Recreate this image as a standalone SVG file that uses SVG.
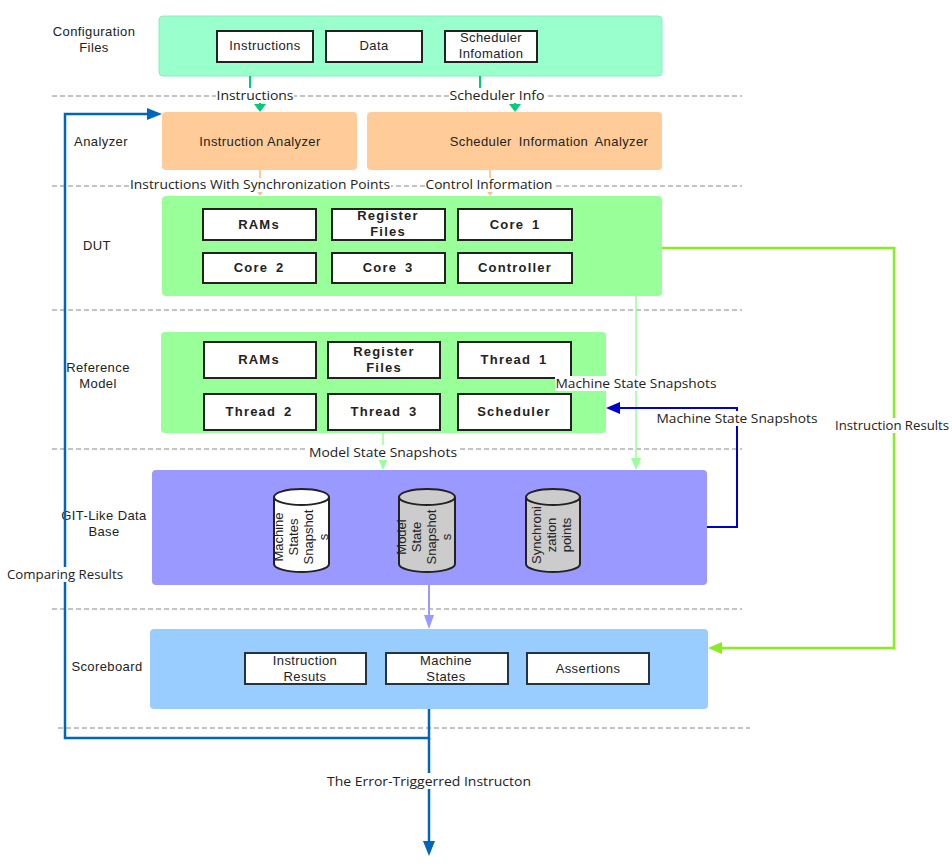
<svg xmlns="http://www.w3.org/2000/svg" width="952" height="866" viewBox="0 0 952 866">
<style>
.lane{font-family:"Liberation Sans",Arial,sans-serif;font-size:13px;fill:#222;text-anchor:middle;letter-spacing:0.4px}
.box{fill:#fff;stroke:#222;stroke-width:2}
.bt{font-family:"Liberation Sans",Arial,sans-serif;font-size:13px;fill:#222;text-anchor:middle;letter-spacing:0.4px}
.bb{font-family:"Liberation Sans",Arial,sans-serif;font-size:13px;font-weight:bold;fill:#222;text-anchor:middle;letter-spacing:1.2px;word-spacing:3px}
.cl{font-family:"Open Sans","Noto Sans",sans-serif;font-size:13.5px;fill:#222;text-anchor:middle}
.dash{stroke:#888;stroke-width:1;stroke-dasharray:5 3;fill:none}
.cyl{font-family:"Liberation Sans",Arial,sans-serif;font-size:13px;fill:#222;text-anchor:middle}
.sb{fill:#fff;stroke:#223344;stroke-width:2}
</style>
<rect width="952" height="866" fill="#fff"/>
<g id="lanes">
<line class="dash" x1="52" y1="96" x2="742" y2="96"/>
<line class="dash" x1="52" y1="186" x2="742" y2="186"/>
<line class="dash" x1="52" y1="310" x2="742" y2="310"/>
<line class="dash" x1="52" y1="449" x2="742" y2="449"/>
<line class="dash" x1="52" y1="609" x2="742" y2="609"/>
<line class="dash" x1="58" y1="728" x2="750" y2="728"/>
<text class="lane" x="94" y="36">Configuration</text>
<text class="lane" x="94" y="52">Files</text>
<text class="lane" x="101" y="146">Analyzer</text>
<text class="lane" x="97" y="250">DUT</text>
<text class="lane" x="98" y="372">Reference</text>
<text class="lane" x="98" y="388">Model</text>
<text class="lane" x="104" y="520">GIT-Like Data</text>
<text class="lane" x="104" y="536">Base</text>
<text class="lane" x="107" y="671">Scoreboard</text>
</g>
<g id="config">
<rect x="159" y="16" width="503" height="60" rx="4" fill="#99ffcc" stroke="#88eebb" stroke-width="1"/>
<rect class="box" x="217" y="31" width="96" height="31"/>
<text class="bt" x="265" y="50">Instructions</text>
<rect class="box" x="326" y="31" width="96" height="31"/>
<text class="bt" x="374" y="50">Data</text>
<rect class="box" x="445" y="31" width="92" height="31"/>
<text class="bt" x="491" y="42">Scheduler</text>
<text class="bt" x="491" y="58">Infomation</text>
</g>
<g id="instruction-analyzer">
<rect x="162" y="112" width="195" height="58" rx="4" fill="#ffcc99"/>
<text class="bt" x="260" y="146">Instruction  Analyzer</text>
</g>
<g id="scheduler-analyzer">
<rect x="367" y="112" width="295" height="58" rx="4" fill="#ffcc99"/>
<text class="bt" x="549" y="146" style="word-spacing:3px">Scheduler Information Analyzer</text>
</g>
<g id="dut">
<rect x="162" y="196" width="500" height="100" rx="4" fill="#99ff99"/>
<rect class="box" x="203" y="209" width="113" height="31"/>
<text class="bb" x="259" y="229">RAMs</text>
<rect class="box" x="332" y="209" width="113" height="31"/>
<text class="bb" x="388" y="220">Register</text>
<text class="bb" x="388" y="236">Files</text>
<rect class="box" x="458" y="209" width="114" height="31"/>
<text class="bb" x="515" y="229">Core 1</text>
<rect class="box" x="203" y="253" width="113" height="30"/>
<text class="bb" x="259" y="272">Core 2</text>
<rect class="box" x="332" y="253" width="113" height="30"/>
<text class="bb" x="388" y="272">Core 3</text>
<rect class="box" x="458" y="253" width="114" height="30"/>
<text class="bb" x="515" y="272">Controller</text>
</g>
<g id="reference-model">
<rect x="161" y="332" width="445" height="101" rx="4" fill="#99ff99"/>
<rect class="box" x="204" y="342" width="112" height="36"/>
<text class="bb" x="259" y="364">RAMs</text>
<rect class="box" x="328" y="342" width="112" height="36"/>
<text class="bb" x="384" y="356">Register</text>
<text class="bb" x="384" y="372">Files</text>
<rect class="box" x="458" y="342" width="113" height="36"/>
<text class="bb" x="514" y="364">Thread 1</text>
<rect class="box" x="204" y="394" width="112" height="36"/>
<text class="bb" x="259" y="416">Thread 2</text>
<rect class="box" x="328" y="394" width="112" height="36"/>
<text class="bb" x="384" y="416">Thread 3</text>
<rect class="box" x="458" y="394" width="113" height="36"/>
<text class="bb" x="514" y="416">Scheduler</text>
</g>
<g id="database">
<rect x="152" y="470" width="555" height="115" rx="4" fill="#9999ff"/>
<g id="cyl-machine">
<path d="M274,497 L274,564 A27.5,8 0 0 0 329,564 L329,497" fill="#fff" stroke="#222" stroke-width="2"/>
<ellipse cx="301.5" cy="497" rx="27.5" ry="8" fill="#fff" stroke="#222" stroke-width="2"/>
<g transform="translate(0,537) rotate(-90)">
<text class="cyl" x="0" y="283">Machine</text>
<text class="cyl" x="0" y="298">States</text>
<text class="cyl" x="0" y="313">Snapshot</text>
<text class="cyl" x="0" y="328">s</text>
</g>
</g>
<g id="cyl-model">
<path d="M399,497 L399,564 A28,8 0 0 0 455,564 L455,497" fill="#cccccc" stroke="#222" stroke-width="2"/>
<ellipse cx="427" cy="497" rx="28" ry="8" fill="#cccccc" stroke="#222" stroke-width="2"/>
<g transform="translate(0,537) rotate(-90)">
<text class="cyl" x="0" y="406">Model</text>
<text class="cyl" x="0" y="421">State</text>
<text class="cyl" x="0" y="436">Snapshot</text>
<text class="cyl" x="0" y="451">s</text>
</g>
</g>
<g id="cyl-sync">
<path d="M526,497 L526,564 A27,8 0 0 0 580,564 L580,497" fill="#cccccc" stroke="#222" stroke-width="2"/>
<ellipse cx="553" cy="497" rx="27" ry="8" fill="#cccccc" stroke="#222" stroke-width="2"/>
<g transform="translate(0,535) rotate(-90)">
<text class="cyl" x="0" y="541">Synchroni</text>
<text class="cyl" x="0" y="556">zation</text>
<text class="cyl" x="0" y="571">points</text>
</g>
</g>
</g>
<g id="scoreboard">
<rect x="150" y="629" width="558" height="80" rx="4" fill="#99ccff"/>
<rect class="sb" x="245" y="653" width="121" height="31"/>
<text class="bt" x="305" y="665">Instruction</text>
<text class="bt" x="305" y="681">Resuts</text>
<rect class="sb" x="386" y="653" width="122" height="31"/>
<text class="bt" x="446" y="665">Machine</text>
<text class="bt" x="446" y="681">States</text>
<rect class="sb" x="527" y="653" width="122" height="31"/>
<text class="bt" x="588" y="673">Assertions</text>
</g>
<g id="connectors" fill="none">
<path d="M250,76 V96 H260 V104" stroke="#00cc77" stroke-width="2"/>
<path d="M254,104 L266,104 L260,112 Z" fill="#00cc77"/>
<path d="M480,76 V96 H515 V104" stroke="#00cc77" stroke-width="2"/>
<path d="M509,104 L521,104 L515,112 Z" fill="#00cc77"/>
<path d="M260,170 V190" stroke="#ffcc99" stroke-width="2"/>
<path d="M256,190 L264,190 L260,196 Z" fill="#ffbb99"/>
<path d="M490,170 V190" stroke="#ffcc99" stroke-width="2"/>
<path d="M486,190 L494,190 L490,196 Z" fill="#ffbb99"/>
<path d="M636,296 V460" stroke="#99ff99" stroke-width="1.5"/>
<path d="M631,458 L641,458 L636,470 Z" fill="#99ff99"/>
<path d="M383,433 V460" stroke="#99ff99" stroke-width="1.5"/>
<path d="M378,458 L388,458 L383,470 Z" fill="#99ff99"/>
<path d="M707,527 H737 V408 H618" stroke="#0000cc" stroke-width="2"/>
<path d="M606,408 L620,402 L620,414 Z" fill="#0000cc"/>
<path d="M662,248 H894 V648 H720" stroke="#88ee22" stroke-width="2.5"/>
<path d="M708,648 L722,642 L722,654 Z" fill="#88ee22"/>
<path d="M429,585 V617" stroke="#9999ff" stroke-width="2"/>
<path d="M424,615 L434,615 L429,629 Z" fill="#9999ff"/>
<path d="M429,709 V738 H65 V114 H150" stroke="#0066bb" stroke-width="2.5"/>
<path d="M162,114 L147,108 L147,120 Z" fill="#0066bb"/>
<path d="M429,738 V843" stroke="#0066bb" stroke-width="2.5"/>
<path d="M429,856 L423,841 L435,841 Z" fill="#0066bb"/>
</g>
<g id="connector-labels">
<rect x="216" y="88" width="78" height="15" fill="#fff"/>
<text class="cl" x="255" y="100" textLength="77" lengthAdjust="spacingAndGlyphs">Instructions</text>
<rect x="449" y="88" width="97" height="15" fill="#fff"/>
<text class="cl" x="497" y="100" textLength="95" lengthAdjust="spacingAndGlyphs">Scheduler Info</text>
<rect x="129" y="178" width="262" height="14" fill="#fff"/>
<text class="cl" x="260" y="189" textLength="260" lengthAdjust="spacingAndGlyphs">Instructions With Synchronization Points</text>
<rect x="425" y="178" width="129" height="14" fill="#fff"/>
<text class="cl" x="489" y="189" textLength="127" lengthAdjust="spacingAndGlyphs">Control Information</text>
<rect x="555" y="376" width="163" height="15" fill="#fff"/>
<text class="cl" x="636" y="388" textLength="161" lengthAdjust="spacingAndGlyphs">Machine State Snapshots</text>
<rect x="655" y="411" width="163" height="15" fill="#fff"/>
<text class="cl" x="737" y="423" textLength="161" lengthAdjust="spacingAndGlyphs">Machine State Snapshots</text>
<rect x="833" y="418" width="118" height="15" fill="#fff"/>
<text class="cl" x="892" y="430" textLength="114" lengthAdjust="spacingAndGlyphs">Instruction Results</text>
<rect x="308" y="445" width="150" height="15" fill="#fff"/>
<text class="cl" x="383" y="457" textLength="148" lengthAdjust="spacingAndGlyphs">Model State Snapshots</text>
<rect x="5" y="567" width="120" height="15" fill="#fff"/>
<text class="cl" x="65" y="579" textLength="116" lengthAdjust="spacingAndGlyphs">Comparing Results</text>
<rect x="325" y="773" width="207" height="16" fill="#fff"/>
<text class="cl" x="429" y="786" textLength="204" lengthAdjust="spacingAndGlyphs">The Error-Triggerred Instructon</text>
</g>
</svg>
